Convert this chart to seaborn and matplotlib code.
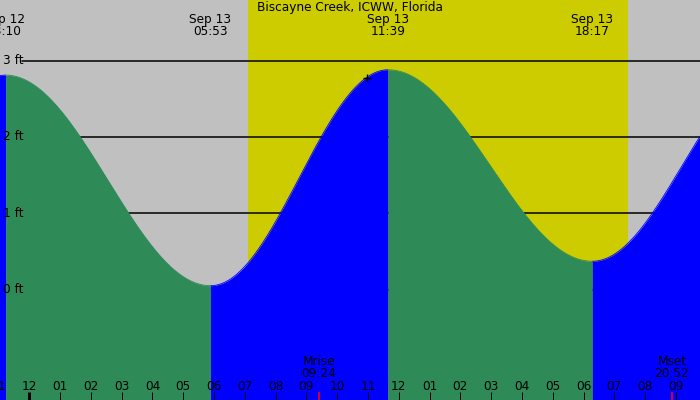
import numpy as np
import pandas as pd
import matplotlib
matplotlib.use("Agg")
import matplotlib.pyplot as plt
import seaborn as sns

# ---------------- data ----------------
title = "Biscayne Creek, ICWW, Florida"
# tide extremes, hours relative to Sep 13 00:00, heights in ft
extreme_hours = [-6.6, -0.77, 5.883, 11.65, 18.283, 24.08]
extreme_heights = [0.35, 2.81, 0.05, 2.88, 0.37, 2.85]
label_hours = [-0.833, 5.883, 11.65, 18.283]
label_dates = ["Sep 12", "Sep 13", "Sep 13", "Sep 13"]
label_times = ["23:10", "05:53", "11:39", "18:17"]
sunrise_hour = 7.09
sunset_hour = 19.43
moon_hours = [9.4, 20.867]
moon_names = ["Mrise", "Mset"]
moon_times = ["09:24", "20:52"]
hour_ticks = list(range(-1, 22))
hour_labels = ["11", "12", "01", "02", "03", "04", "05", "06", "07", "08", "09", "10",
               "11", "12", "01", "02", "03", "04", "05", "06", "07", "08", "09"]
level_ft = [0, 1, 2, 3]
level_labels = ["0 ft", "1 ft", "2 ft", "3 ft"]
now_hour = 10.97
now_height = 2.77

# ---------------- build curve ----------------
rows = []
for i in range(len(extreme_hours) - 1):
    h0, h1 = extreme_hours[i], extreme_hours[i + 1]
    y0, y1 = extreme_heights[i], extreme_heights[i + 1]
    t = np.linspace(h0, h1, 300)
    y = y0 + (y1 - y0) * (1 - np.cos(np.pi * (t - h0) / (h1 - h0))) / 2
    phase = "rising" if y1 > y0 else "falling"
    for a, b in zip(t, y):
        rows.append((a, b, phase, i))
df = pd.DataFrame(rows, columns=["hour", "height", "phase", "segment"])

GRAY = "#c0c0c0"
YELLOW = "#cccc00"
GREEN = "#2e8b57"
BLUE = "#0000ff"
colors = {"rising": BLUE, "falling": GREEN}

sns.set_style("white")
plt.rcParams["font.family"] = ["DejaVu Sans"]
FS = 8.7

fig = plt.figure(figsize=(7, 4), dpi=100)
ax = fig.add_axes([0, 0, 1, 1])
ax.set_facecolor(GRAY)
ax.set_xlim(-29.3 / 30.79, (700 - 29.3) / 30.79)
ax.set_ylim((289.5 - 400) / 76.3, 289.5 / 76.3)

ax.axvspan(sunrise_hour, sunset_hour, color=YELLOW, lw=0, zorder=0)

for lv in level_ft:
    ax.axhline(lv, xmin=22 / 700, xmax=1, color="black", lw=1.1, zorder=1)

ybot = ax.get_ylim()[0]
for seg, g in df.groupby("segment"):
    ax.fill_between(g["hour"], ybot, g["height"], color=colors[g["phase"].iloc[0]],
                    lw=0, zorder=2)
sns.lineplot(data=df, x="hour", y="height", hue="phase", units="segment",
             estimator=None, palette=colors, lw=0.6, legend=False, ax=ax, zorder=2)

ax.plot([now_hour], [now_height], marker="+", color="black", ms=6, mew=1, zorder=4)

xt = ax.get_xaxis_transform()
# level labels
for lv, lab in zip(level_ft, level_labels):
    ax.text(3 / 700, lv, lab, transform=ax.get_yaxis_transform(), ha="left",
            va="center", fontsize=FS, color="black", zorder=5)

# title and extreme labels
ax.text(0.5, 1 - 8 / 400, title, transform=ax.transAxes, ha="center", va="center",
        fontsize=FS, color="black", zorder=5)
for h, d, tm in zip(label_hours, label_dates, label_times):
    ax.text(h, 1 - 19.5 / 400, d, transform=xt, ha="center", va="center",
            fontsize=FS, color="black", zorder=5)
    ax.text(h, 1 - 31.5 / 400, tm, transform=xt, ha="center", va="center",
            fontsize=FS, color="black", zorder=5)

# hour ticks and labels
for h, lab in zip(hour_ticks, hour_labels):
    ax.text(h, 1 - 386 / 400, lab, transform=xt, ha="center", va="center",
            fontsize=FS, color="black", zorder=5)
    lw = 3 if h == 0 else 1
    ax.plot([h, h], [0, 8 / 400], transform=xt, color="black", lw=lw * 0.72,
            solid_capstyle="butt", zorder=5)

# moon events
for h, n, tm in zip(moon_hours, moon_names, moon_times):
    ax.text(h, 1 - 361.5 / 400, n, transform=xt, ha="center", va="center",
            fontsize=FS, color="black", zorder=5)
    ax.text(h, 1 - 373.5 / 400, tm, transform=xt, ha="center", va="center",
            fontsize=FS, color="black", zorder=5)
    ax.plot([h, h], [0, 8 / 400], transform=xt, color="red", lw=1.2,
            solid_capstyle="butt", zorder=5)

ax.set_xticks([])
ax.set_yticks([])
ax.set_xlabel("")
ax.set_ylabel("")
for s in ax.spines.values():
    s.set_visible(False)

fig.savefig("out.png", dpi=100)
